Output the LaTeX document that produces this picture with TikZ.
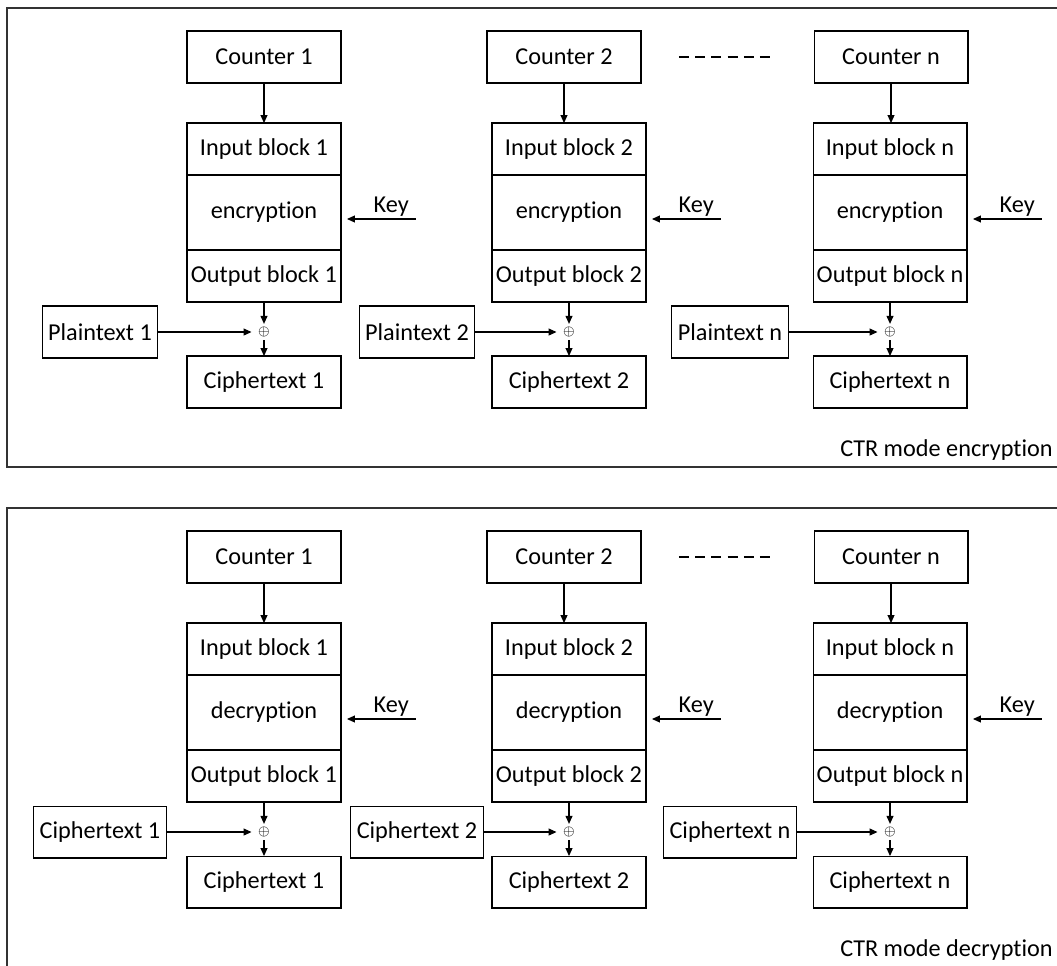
\documentclass[tikz,border=0pt]{standalone}
\usepackage{fontspec}
\setmainfont{Carlito}[Ligatures=NoCommon]
\usetikzlibrary{positioning,arrows.meta}
\newcommand{\blkfont}{\fontsize{13.8}{16}\selectfont}
\tikzset{
  blk/.style     ={draw=black,line width=0.6pt,minimum width=3.08cm,minimum height=1.04cm,inner sep=0pt,outer sep=0pt,font=\blkfont},
  opblk/.style   ={blk,minimum height=1.5cm},
  srcbox/.style  ={draw=black,line width=0.6pt,minimum height=1.04cm,inner xsep=0.12cm,inner ysep=0pt,outer sep=0pt,font=\blkfont},
  xorsym/.style  ={inner sep=1.6pt,font=\fontsize{8}{9}\selectfont},
  arr/.style     ={-{Triangle[length=1.6mm,width=1.4mm]},line width=0.6pt,draw=black},
  keylbl/.style  ={above,inner sep=1pt,font=\blkfont},
  gapline/.style ={line width=0.6pt,dash pattern=on 0.2cm off 0.124cm},
  frame/.style   ={draw=black!80,line width=0.7pt},
  ttl/.style     ={anchor=east,inner sep=0pt,font=\blkfont},
}
\begin{document}
\begin{tikzpicture}[x=0.02cm,y=-0.02cm]
  \clip (0,0) rectangle (1057,965);
  \foreach \dy/\p/\op/\src in {0/e/encryption/Plaintext,500/d/decryption/Ciphertext}{
    \draw[frame] (7,{8+\dy}) rectangle (1080,{467+\dy});
    \node[ttl] (mode\p) at (1053,{450+\dy}) {CTR mode \op};
    \foreach \i/\cx/\x/\px in {1/264/264/100,2/564/569/417,n/891/890/730}{
      \node[blk] (ctr\i\p) at (\cx,{57+\dy}) {Counter \i};
      \node[blk] (inb\i\p) at (\x,{149+\dy}) {Input block \i};
      \node[opblk, below=0pt of inb\i\p] (op\i\p) {\op};
      \node[blk,   below=0pt of op\i\p] (outb\i\p) {Output block \i};
      \node[xorsym] (xor\i\p) at (\x,{332+\dy}) {$\oplus$};
      \node[srcbox] (src\i\p) at (\px,{332+\dy}) {\src\ \i};
      \node[blk] (ct\i\p) at (\x,{382+\dy}) {Ciphertext \i};
      \coordinate (key\i\p) at ([xshift=1.5cm,yshift=-0.13cm]op\i\p.east);

      \draw[arr] (ctr\i\p) -- (ctr\i\p |- inb\i\p.north);
      \draw[arr,shorten >=0.12cm] (key\i\p) -- node[keylbl,pos=0.33]{Key} ([yshift=-0.13cm]op\i\p.east);
      \draw[arr] (outb\i\p) -- (xor\i\p);
      \draw[arr,shorten >=2pt] (src\i\p) -- (xor\i\p);
      \draw[arr] (xor\i\p) -- (ct\i\p);
    }
    \draw[gapline,shorten <=0.76cm,shorten >=0.88cm] (ctr2\p) -- (ctrn\p);
  }
\end{tikzpicture}
\end{document}
